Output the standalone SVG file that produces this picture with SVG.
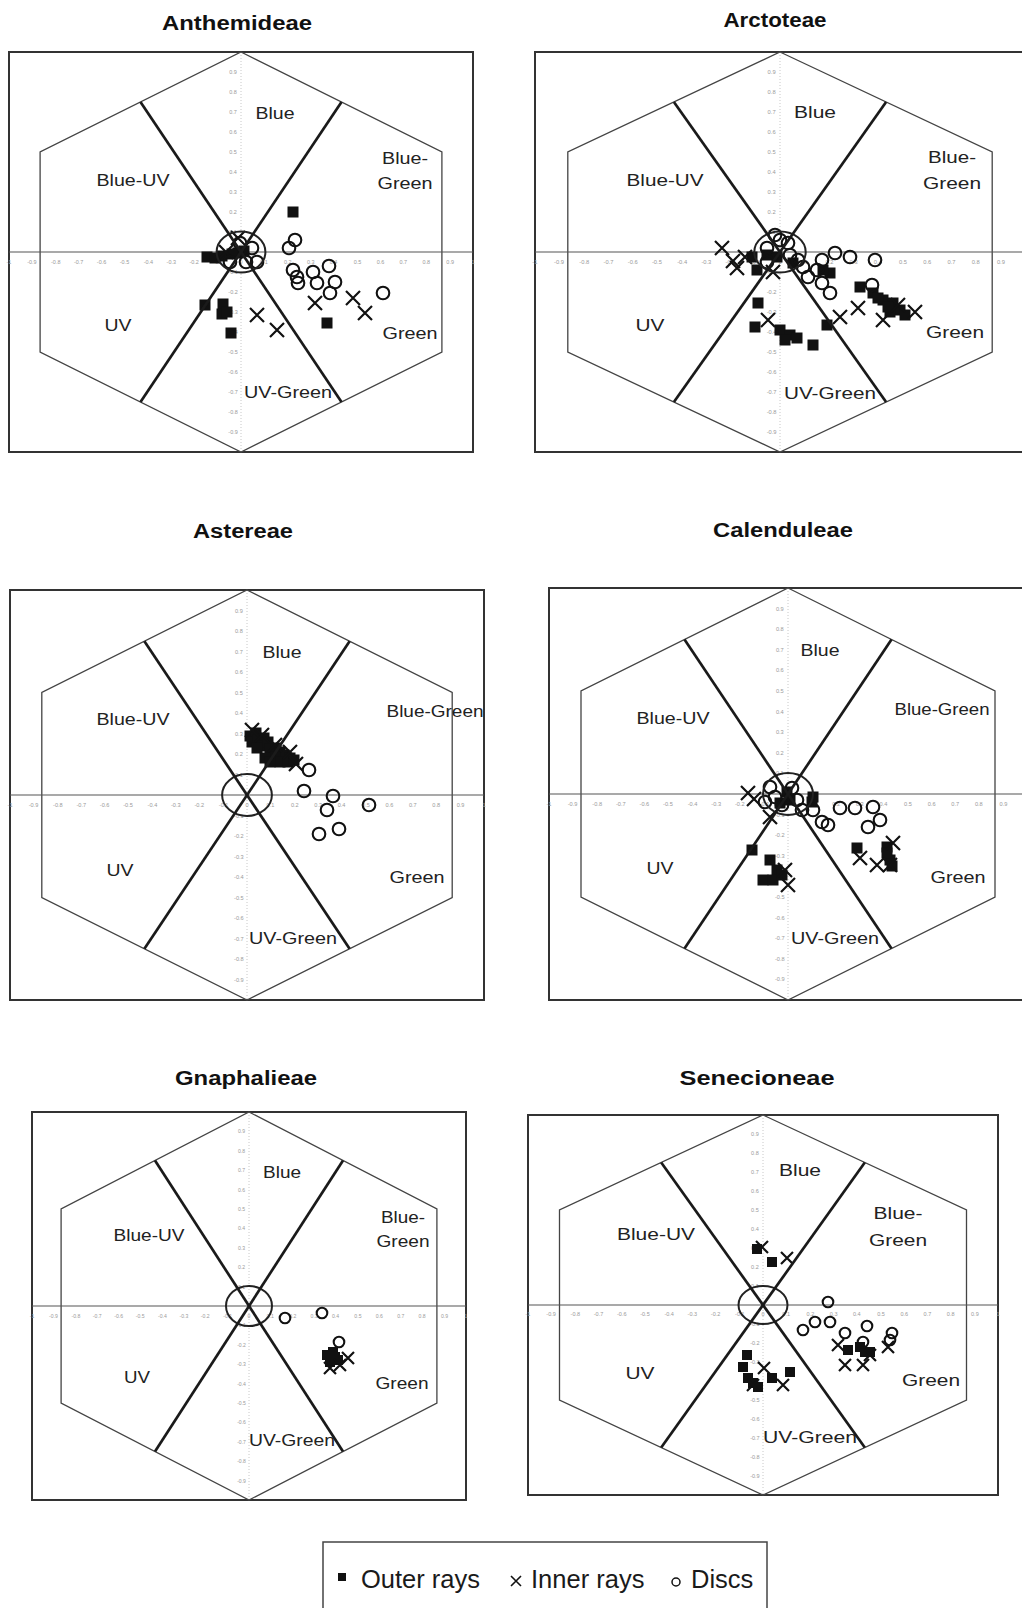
<svg xmlns="http://www.w3.org/2000/svg" xmlns:xlink="http://www.w3.org/1999/xlink" width="1022" height="1608" viewBox="0 0 1022 1608">
<style>
.t{font-family:"Liberation Sans",Arial,sans-serif;font-weight:bold;font-size:19.5px;fill:#111;text-anchor:middle}
.l{font-family:"Liberation Sans",Arial,sans-serif;font-size:17px;fill:#222;text-anchor:middle}
.k{font-family:"Liberation Sans",Arial,sans-serif;font-size:5.5px;fill:#9a9a9a;text-anchor:middle}
.g{font-family:"Liberation Sans",Arial,sans-serif;font-size:25.5px;fill:#1a1a1a}
.fr{fill:none;stroke:#333;stroke-width:2}
.hx{fill:none;stroke:#444;stroke-width:1.3}
.th{stroke:#1a1a1a;stroke-width:2.7;fill:none}
.ax{stroke:#555;stroke-width:1.2}
.va{stroke:#c8c8c8;stroke-width:1;stroke-dasharray:1 2}
.el{fill:none;stroke:#222;stroke-width:2}
.sq{fill:#111}
.xx{fill:none;stroke:#111;stroke-width:2.2}
.ci{fill:none;stroke:#111;stroke-width:2.1}
</style>
<defs>
<rect id="s" class="sq" x="-5.5" y="-5.5" width="11" height="11"/>
<path id="x" class="xx" d="M-7,-7L7,7M-7,7L7,-7"/>
<circle id="o" class="ci" r="6.3"/>
<rect id="s2" class="sq" x="-5" y="-5" width="10" height="10"/>
<path id="x2" class="xx" d="M-6,-6L6,6M-6,6L6,-6"/>
<circle id="o2" class="ci" r="5.3"/>
<g id="ticks" class="k">
<text x="-233" y="12">-1</text><text x="-210" y="12">-0.9</text><text x="-186" y="12">-0.8</text><text x="-163" y="12">-0.7</text><text x="-140" y="12">-0.6</text><text x="-117" y="12">-0.5</text><text x="-93" y="12">-0.4</text><text x="-70" y="12">-0.3</text><text x="-47" y="12">-0.2</text><text x="-23" y="12">-0.1</text><text x="0" y="12">0</text><text x="23" y="12">0.1</text><text x="47" y="12">0.2</text><text x="70" y="12">0.3</text><text x="93" y="12">0.4</text><text x="117" y="12">0.5</text><text x="140" y="12">0.6</text><text x="163" y="12">0.7</text><text x="186" y="12">0.8</text><text x="210" y="12">0.9</text><text x="233" y="12">1</text>
<text x="-8" y="-178">0.9</text><text x="-8" y="-158">0.8</text><text x="-8" y="-138">0.7</text><text x="-8" y="-118">0.6</text><text x="-8" y="-98">0.5</text><text x="-8" y="-78">0.4</text><text x="-8" y="-58">0.3</text><text x="-8" y="-38">0.2</text><text x="-8" y="-18">0.1</text><text x="-8" y="22">-0.1</text><text x="-8" y="42">-0.2</text><text x="-8" y="62">-0.3</text><text x="-8" y="82">-0.4</text><text x="-8" y="102">-0.5</text><text x="-8" y="122">-0.6</text><text x="-8" y="142">-0.7</text><text x="-8" y="162">-0.8</text><text x="-8" y="182">-0.9</text>
</g>
</defs>
<rect width="1022" height="1608" fill="#fff"/>

<!-- Panel 1: Anthemideae -->
<g id="panel-anthemideae">
<text class="t" x="237" y="30" textLength="150" lengthAdjust="spacingAndGlyphs">Anthemideae</text>
<rect class="fr" x="9" y="52" width="464" height="400"/>
<line class="va" x1="241" y1="52" x2="241" y2="452"/>
<use href="#ticks" transform="translate(241,252) scale(0.996,1)"/>
<polygon class="hx" points="241,52 441.9,152 441.9,352 241,452 40.1,352 40.1,152"/>
<line class="ax" x1="9" y1="252" x2="473" y2="252"/>
<g class="regions">
<text class="l" x="275" y="119" textLength="39" lengthAdjust="spacingAndGlyphs">Blue</text>
<text class="l" x="133" y="186" textLength="73" lengthAdjust="spacingAndGlyphs">Blue-UV</text>
<text class="l" x="405" y="164" textLength="46" lengthAdjust="spacingAndGlyphs">Blue-</text>
<text class="l" x="405" y="189" textLength="55" lengthAdjust="spacingAndGlyphs">Green</text>
<text class="l" x="118" y="331" textLength="27" lengthAdjust="spacingAndGlyphs">UV</text>
<text class="l" x="410" y="339" textLength="55" lengthAdjust="spacingAndGlyphs">Green</text>
<text class="l" x="288" y="398" textLength="88" lengthAdjust="spacingAndGlyphs">UV-Green</text>
</g>
<g class="data">
<use href="#s" x="293" y="212"/><use href="#s" x="327" y="323"/><use href="#s" x="205" y="305"/><use href="#s" x="223" y="304"/><use href="#s" x="222" y="314"/><use href="#s" x="227" y="312"/><use href="#s" x="231" y="333"/><use href="#s" x="207" y="257"/><use href="#s" x="215" y="258"/><use href="#s" x="222" y="256"/><use href="#s" x="238" y="253"/><use href="#s" x="244" y="251"/><use href="#s" x="232" y="254"/>
<use href="#x" x="257" y="315"/><use href="#x" x="277" y="330"/><use href="#x" x="315" y="303"/><use href="#x" x="353" y="298"/><use href="#x" x="365" y="313"/><use href="#x" x="238" y="238"/><use href="#x" x="226" y="252"/>
<use href="#o" x="295" y="240"/><use href="#o" x="289" y="248"/><use href="#o" x="293" y="270"/><use href="#o" x="297" y="277"/><use href="#o" x="298" y="283"/><use href="#o" x="313" y="272"/><use href="#o" x="317" y="283"/><use href="#o" x="329" y="266"/><use href="#o" x="335" y="282"/><use href="#o" x="330" y="293"/><use href="#o" x="383" y="293"/><use href="#o" x="240" y="243"/><use href="#o" x="252" y="248"/><use href="#o" x="257" y="262"/><use href="#o" x="230" y="262"/><use href="#o" x="246" y="262"/>
</g>
<ellipse class="el" cx="241" cy="252" rx="24.4" ry="20.5"/>
</g>

<!-- Panel 2: Arctoteae -->
<g id="panel-arctoteae">
<text class="t" x="775" y="27" textLength="103" lengthAdjust="spacingAndGlyphs">Arctoteae</text>
<rect class="fr" x="535" y="52" width="490" height="400"/>
<line class="va" x1="780" y1="52" x2="780" y2="452"/>
<use href="#ticks" transform="translate(780,252) scale(1.052,1)"/>
<polygon class="hx" points="780,52 992.2,152 992.2,352 780,452 567.8,352 567.8,152"/>
<line class="ax" x1="535" y1="252" x2="1022" y2="252"/>
<g class="regions">
<text class="l" x="815" y="118" textLength="42" lengthAdjust="spacingAndGlyphs">Blue</text>
<text class="l" x="665" y="186" textLength="77" lengthAdjust="spacingAndGlyphs">Blue-UV</text>
<text class="l" x="952" y="163" textLength="48" lengthAdjust="spacingAndGlyphs">Blue-</text>
<text class="l" x="952" y="189" textLength="58" lengthAdjust="spacingAndGlyphs">Green</text>
<text class="l" x="650" y="331" textLength="29" lengthAdjust="spacingAndGlyphs">UV</text>
<text class="l" x="955" y="338" textLength="58" lengthAdjust="spacingAndGlyphs">Green</text>
<text class="l" x="830" y="399" textLength="92" lengthAdjust="spacingAndGlyphs">UV-Green</text>
</g>
<g class="data">
<use href="#s" x="757" y="270"/><use href="#s" x="752" y="257"/><use href="#s" x="758" y="303"/><use href="#s" x="755" y="327"/><use href="#s" x="780" y="330"/><use href="#s" x="790" y="335"/><use href="#s" x="797" y="338"/><use href="#s" x="785" y="340"/><use href="#s" x="813" y="345"/><use href="#s" x="827" y="325"/><use href="#s" x="830" y="273"/><use href="#s" x="823" y="270"/><use href="#s" x="793" y="263"/><use href="#s" x="860" y="287"/><use href="#s" x="873" y="293"/><use href="#s" x="883" y="300"/><use href="#s" x="893" y="303"/><use href="#s" x="900" y="310"/><use href="#s" x="890" y="312"/><use href="#s" x="905" y="315"/><use href="#s" x="767" y="255"/><use href="#s" x="777" y="257"/><use href="#s" x="878" y="298"/><use href="#s" x="888" y="307"/>
<use href="#x" x="722" y="248"/><use href="#x" x="737" y="268"/><use href="#x" x="733" y="261"/><use href="#x" x="745" y="257"/><use href="#x" x="773" y="272"/><use href="#x" x="768" y="320"/><use href="#x" x="840" y="317"/><use href="#x" x="858" y="308"/><use href="#x" x="883" y="320"/><use href="#x" x="915" y="312"/><use href="#x" x="898" y="305"/>
<use href="#o" x="767" y="248"/><use href="#o" x="780" y="240"/><use href="#o" x="788" y="243"/><use href="#o" x="790" y="255"/><use href="#o" x="803" y="267"/><use href="#o" x="808" y="277"/><use href="#o" x="817" y="270"/><use href="#o" x="822" y="260"/><use href="#o" x="835" y="253"/><use href="#o" x="850" y="257"/><use href="#o" x="875" y="260"/><use href="#o" x="822" y="283"/><use href="#o" x="830" y="293"/><use href="#o" x="872" y="285"/><use href="#o" x="798" y="260"/><use href="#o" x="767" y="262"/><use href="#o" x="775" y="235"/>
</g>
<ellipse class="el" cx="780" cy="252" rx="25.7" ry="20.5"/>
</g>

<!-- Panel 3: Astereae -->
<g id="panel-astereae">
<text class="t" x="243" y="538" textLength="100" lengthAdjust="spacingAndGlyphs">Astereae</text>
<rect class="fr" x="10" y="590" width="474" height="410"/>
<line class="va" x1="247" y1="590" x2="247" y2="1000"/>
<use href="#ticks" transform="translate(247,795) scale(1.017,1.025)"/>
<polygon class="hx" points="247,590 452.2,692.5 452.2,897.5 247,1000 41.8,897.5 41.8,692.5"/>
<line class="ax" x1="10" y1="795" x2="484" y2="795"/>
<g class="regions">
<text class="l" x="282" y="658" textLength="39" lengthAdjust="spacingAndGlyphs">Blue</text>
<text class="l" x="133" y="725" textLength="73" lengthAdjust="spacingAndGlyphs">Blue-UV</text>
<text class="l" x="435" y="717" textLength="97" lengthAdjust="spacingAndGlyphs">Blue-Green</text>
<text class="l" x="120" y="876" textLength="27" lengthAdjust="spacingAndGlyphs">UV</text>
<text class="l" x="417" y="883" textLength="55" lengthAdjust="spacingAndGlyphs">Green</text>
<text class="l" x="293" y="944" textLength="88" lengthAdjust="spacingAndGlyphs">UV-Green</text>
</g>
<g class="data">
<use href="#s" x="250" y="736"/><use href="#s" x="256" y="733"/><use href="#s" x="252" y="742"/><use href="#s" x="258" y="740"/><use href="#s" x="264" y="738"/><use href="#s" x="262" y="746"/><use href="#s" x="268" y="742"/><use href="#s" x="270" y="749"/><use href="#s" x="276" y="748"/><use href="#s" x="280" y="752"/><use href="#s" x="284" y="755"/><use href="#s" x="290" y="758"/><use href="#s" x="275" y="757"/><use href="#s" x="280" y="762"/><use href="#s" x="288" y="762"/><use href="#s" x="294" y="760"/><use href="#s" x="265" y="758"/><use href="#s" x="270" y="762"/><use href="#s" x="257" y="748"/>
<use href="#x" x="252" y="730"/><use href="#x" x="262" y="735"/><use href="#x" x="275" y="745"/><use href="#x" x="290" y="752"/><use href="#x" x="296" y="764"/>
<use href="#o" x="309" y="770"/><use href="#o" x="304" y="791"/><use href="#o" x="333" y="796"/><use href="#o" x="327" y="810"/><use href="#o" x="369" y="805"/><use href="#o" x="319" y="834"/><use href="#o" x="339" y="829"/>
</g>
<ellipse class="el" cx="247" cy="795" rx="24.9" ry="21"/>
</g>

<!-- Panel 4: Calenduleae -->
<g id="panel-calenduleae">
<text class="t" x="783" y="537" textLength="140" lengthAdjust="spacingAndGlyphs">Calenduleae</text>
<rect class="fr" x="549" y="588" width="478" height="412"/>
<line class="va" x1="788" y1="588" x2="788" y2="1000"/>
<use href="#ticks" transform="translate(788,794) scale(1.026,1.03)"/>
<polygon class="hx" points="788,588 995,691 995,897 788,1000 581,897 581,691"/>
<line class="ax" x1="549" y1="794" x2="1022" y2="794"/>
<g class="regions">
<text class="l" x="820" y="656" textLength="39" lengthAdjust="spacingAndGlyphs">Blue</text>
<text class="l" x="673" y="724" textLength="73" lengthAdjust="spacingAndGlyphs">Blue-UV</text>
<text class="l" x="942" y="715" textLength="95" lengthAdjust="spacingAndGlyphs">Blue-Green</text>
<text class="l" x="660" y="874" textLength="27" lengthAdjust="spacingAndGlyphs">UV</text>
<text class="l" x="958" y="883" textLength="55" lengthAdjust="spacingAndGlyphs">Green</text>
<text class="l" x="835" y="944" textLength="88" lengthAdjust="spacingAndGlyphs">UV-Green</text>
</g>
<g class="data">
<use href="#s" x="787" y="792"/><use href="#s" x="813" y="797"/><use href="#s" x="812" y="802"/><use href="#s" x="780" y="803"/><use href="#s" x="790" y="800"/><use href="#s" x="752" y="850"/><use href="#s" x="770" y="860"/><use href="#s" x="777" y="870"/><use href="#s" x="763" y="880"/><use href="#s" x="773" y="880"/><use href="#s" x="782" y="875"/><use href="#s" x="857" y="848"/><use href="#s" x="887" y="847"/><use href="#s" x="890" y="860"/><use href="#s" x="887" y="853"/><use href="#s" x="892" y="866"/>
<use href="#x" x="748" y="793"/><use href="#x" x="754" y="799"/><use href="#x" x="770" y="817"/><use href="#x" x="860" y="858"/><use href="#x" x="877" y="865"/><use href="#x" x="893" y="843"/><use href="#x" x="788" y="885"/><use href="#x" x="785" y="870"/><use href="#x" x="890" y="865"/>
<use href="#o" x="770" y="787"/><use href="#o" x="775" y="797"/><use href="#o" x="782" y="805"/><use href="#o" x="797" y="800"/><use href="#o" x="802" y="810"/><use href="#o" x="813" y="810"/><use href="#o" x="822" y="822"/><use href="#o" x="828" y="825"/><use href="#o" x="840" y="808"/><use href="#o" x="855" y="808"/><use href="#o" x="873" y="807"/><use href="#o" x="880" y="820"/><use href="#o" x="868" y="827"/><use href="#o" x="765" y="802"/><use href="#o" x="792" y="788"/>
</g>
<ellipse class="el" cx="788" cy="794" rx="25" ry="21"/>
</g>

<!-- Panel 5: Gnaphalieae -->
<g id="panel-gnaphalieae">
<text class="t" x="246" y="1085" textLength="142" lengthAdjust="spacingAndGlyphs">Gnaphalieae</text>
<rect class="fr" x="32" y="1112" width="434" height="388"/>
<line class="va" x1="249" y1="1112" x2="249" y2="1500"/>
<use href="#ticks" transform="translate(249,1306) scale(0.931,0.97)"/>
<polygon class="hx" points="249,1112 436.9,1209 436.9,1403 249,1500 61.1,1403 61.1,1209"/>
<line class="ax" x1="32" y1="1306" x2="466" y2="1306"/>
<g class="regions">
<text class="l" x="282" y="1178" textLength="38" lengthAdjust="spacingAndGlyphs">Blue</text>
<text class="l" x="149" y="1241" textLength="71" lengthAdjust="spacingAndGlyphs">Blue-UV</text>
<text class="l" x="403" y="1223" textLength="44" lengthAdjust="spacingAndGlyphs">Blue-</text>
<text class="l" x="403" y="1247" textLength="53" lengthAdjust="spacingAndGlyphs">Green</text>
<text class="l" x="137" y="1383" textLength="26" lengthAdjust="spacingAndGlyphs">UV</text>
<text class="l" x="402" y="1389" textLength="53" lengthAdjust="spacingAndGlyphs">Green</text>
<text class="l" x="292" y="1446" textLength="86" lengthAdjust="spacingAndGlyphs">UV-Green</text>
</g>
<g class="data">
<use href="#s2" x="327" y="1355"/><use href="#s2" x="333" y="1352"/><use href="#s2" x="338" y="1360"/><use href="#s2" x="330" y="1362"/><use href="#s2" x="335" y="1357"/>
<use href="#x2" x="348" y="1358"/><use href="#x2" x="330" y="1368"/><use href="#x2" x="340" y="1365"/>
<use href="#o2" x="285" y="1318"/><use href="#o2" x="322" y="1313"/><use href="#o2" x="339" y="1342"/>
</g>
<ellipse class="el" cx="249" cy="1306" rx="23" ry="20"/>
</g>

<!-- Panel 6: Senecioneae -->
<g id="panel-senecioneae">
<text class="t" x="757" y="1085" textLength="155" lengthAdjust="spacingAndGlyphs">Senecioneae</text>
<rect class="fr" x="528" y="1115" width="470" height="380"/>
<line class="va" x1="763" y1="1115" x2="763" y2="1495"/>
<use href="#ticks" transform="translate(763,1305) scale(1.009,0.95)"/>
<polygon class="hx" points="763,1115 966.5,1210 966.5,1400 763,1495 559.5,1400 559.5,1210"/>
<line class="ax" x1="528" y1="1305" x2="998" y2="1305"/>
<g class="regions">
<text class="l" x="800" y="1176" textLength="42" lengthAdjust="spacingAndGlyphs">Blue</text>
<text class="l" x="656" y="1240" textLength="78" lengthAdjust="spacingAndGlyphs">Blue-UV</text>
<text class="l" x="898" y="1219" textLength="49" lengthAdjust="spacingAndGlyphs">Blue-</text>
<text class="l" x="898" y="1246" textLength="58" lengthAdjust="spacingAndGlyphs">Green</text>
<text class="l" x="640" y="1379" textLength="29" lengthAdjust="spacingAndGlyphs">UV</text>
<text class="l" x="931" y="1386" textLength="58" lengthAdjust="spacingAndGlyphs">Green</text>
<text class="l" x="810" y="1443" textLength="94" lengthAdjust="spacingAndGlyphs">UV-Green</text>
</g>
<g class="data">
<use href="#s2" x="757" y="1249"/><use href="#s2" x="772" y="1262"/><use href="#s2" x="747" y="1355"/><use href="#s2" x="743" y="1367"/><use href="#s2" x="748" y="1378"/><use href="#s2" x="758" y="1387"/><use href="#s2" x="772" y="1378"/><use href="#s2" x="790" y="1372"/><use href="#s2" x="848" y="1350"/><use href="#s2" x="860" y="1347"/><use href="#s2" x="865" y="1352"/><use href="#s2" x="870" y="1352"/><use href="#s2" x="753" y="1383"/>
<use href="#x2" x="762" y="1247"/><use href="#x2" x="787" y="1258"/><use href="#x2" x="764" y="1368"/><use href="#x2" x="753" y="1385"/><use href="#x2" x="783" y="1385"/><use href="#x2" x="838" y="1345"/><use href="#x2" x="845" y="1365"/><use href="#x2" x="863" y="1365"/><use href="#x2" x="888" y="1347"/><use href="#x2" x="870" y="1355"/>
<use href="#o2" x="828" y="1302"/><use href="#o2" x="815" y="1322"/><use href="#o2" x="830" y="1322"/><use href="#o2" x="803" y="1330"/><use href="#o2" x="845" y="1333"/><use href="#o2" x="867" y="1326"/><use href="#o2" x="892" y="1333"/><use href="#o2" x="863" y="1342"/><use href="#o2" x="890" y="1340"/>
</g>
<ellipse class="el" cx="763" cy="1305" rx="24.5" ry="19"/>
</g>

<!-- Sector boundary lines -->
<g id="connectors">
<line class="th" x1="140.5" y1="102" x2="341.5" y2="402"/><line class="th" x1="341.5" y1="102" x2="140.5" y2="402"/>
<line class="th" x1="673.9" y1="102" x2="886.1" y2="402"/><line class="th" x1="886.1" y1="102" x2="673.9" y2="402"/>
<line class="th" x1="144.4" y1="641.3" x2="349.6" y2="948.8"/><line class="th" x1="349.6" y1="641.3" x2="144.4" y2="948.8"/>
<line class="th" x1="684.5" y1="639.5" x2="891.5" y2="948.5"/><line class="th" x1="891.5" y1="639.5" x2="684.5" y2="948.5"/>
<line class="th" x1="155" y1="1160.5" x2="343" y2="1451.5"/><line class="th" x1="343" y1="1160.5" x2="155" y2="1451.5"/>
<line class="th" x1="661.2" y1="1162.5" x2="864.8" y2="1447.5"/><line class="th" x1="864.8" y1="1162.5" x2="661.2" y2="1447.5"/>
</g>

<!-- Legend -->
<g id="legend">
<rect x="323" y="1542" width="444" height="90" fill="none" stroke="#444" stroke-width="1.5"/>
<rect x="338" y="1573" width="8" height="8" fill="#111"/>
<text class="g" x="361" y="1588">Outer rays</text>
<path d="M511,1576L521,1586M511,1586L521,1576" stroke="#111" stroke-width="1.6" fill="none"/>
<text class="g" x="531" y="1588">Inner rays</text>
<circle cx="676" cy="1582" r="4" fill="none" stroke="#111" stroke-width="1.5"/>
<text class="g" x="691" y="1588">Discs</text>
</g>
</svg>
